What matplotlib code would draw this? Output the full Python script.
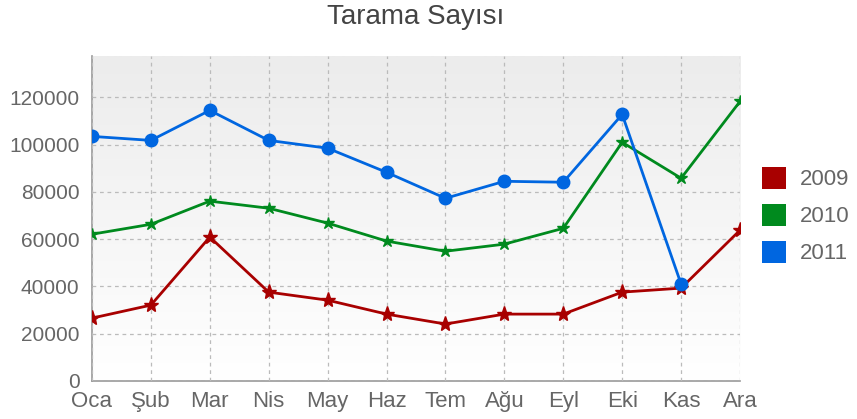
"""
Tarama Sayisi - monthly scan counts, 2009-2011
"""

import numpy as np
import matplotlib.pyplot as plt
from matplotlib.patches import Patch
from matplotlib.colors import LinearSegmentedColormap

months = ['Oca', 'Şub', 'Mar', 'Nis', 'May', 'Haz',
          'Tem', 'Ağu', 'Eyl', 'Eki', 'Kas', 'Ara']

tarama_2009 = [26600, 32100, 60900, 37600, 34200, 28300,
               24100, 28300, 28300, 37600, 39300, 63800]
tarama_2010 = [62100, 66300, 76100, 73100, 66800, 59200,
               54900, 57900, 64600, 101000, 85800, 118300]
# 2011 has no value for Ara
tarama_2011 = [103500, 101800, 114500, 101800, 98500, 88300,
               77300, 84500, 84100, 112800, 41000]

years = ['2009', '2010', '2011']
colors = ['#a80000', '#008a1e', '#0066e0']

plt.rcParams['font.family'] = ['Liberation Sans', 'DejaVu Sans']

fig = plt.figure(figsize=(8.57, 4.19), dpi=100)
ax = fig.add_axes([0.1073, 0.0907, 0.7562, 0.7756])

# light gray to white background gradient
grad = np.linspace(0, 1, 256).reshape(-1, 1)
ax.imshow(grad, extent=[0, len(months) - 1, 0, 137500], aspect='auto',
          cmap=LinearSegmentedColormap.from_list('bg', ['#ffffff', '#ececec']),
          origin='lower', zorder=0)

x = np.arange(len(months))
ax.plot(x, tarama_2009, '-*', color=colors[0], linewidth=2, markersize=11, zorder=3)
ax.plot(x, tarama_2010, '-*', color=colors[1], linewidth=2, markersize=9, zorder=3)
ax.plot(x[:len(tarama_2011)], tarama_2011, '-o', color=colors[2],
        linewidth=2, markersize=9, zorder=4)

ax.set_xlim(0, len(months) - 1)
ax.set_ylim(0, 137500)
ax.set_xticks(x)
ax.set_xticklabels(months)
ax.set_yticks(range(0, 120001, 20000))

ax.grid(True, linestyle=(0, (3, 3)), color='#bbbbbb', linewidth=0.9, zorder=1)
ax.set_axisbelow(False)
for s in ['top', 'right']:
    ax.spines[s].set_visible(False)
for s in ['left', 'bottom']:
    ax.spines[s].set_color('#999999')
    ax.spines[s].set_linewidth(1.2)
ax.tick_params(length=0, colors='#666666', labelsize=15)
ax.tick_params(axis='y', pad=9)
ax.tick_params(axis='x', labelsize=16, pad=7)

ax.set_title('Tarama Sayısı', fontsize=20, color='#444444', pad=23)

handles = [Patch(facecolor=c, edgecolor='none') for c in colors]
fig.legend(handles, years, loc='center left', bbox_to_anchor=(0.889, 0.485),
           frameon=False, fontsize=16, handlelength=1.1, handleheight=1.1,
           handletextpad=0.6, labelspacing=0.62, labelcolor='#666666',
           borderaxespad=0, borderpad=0)

plt.savefig('out.png', dpi=100)
